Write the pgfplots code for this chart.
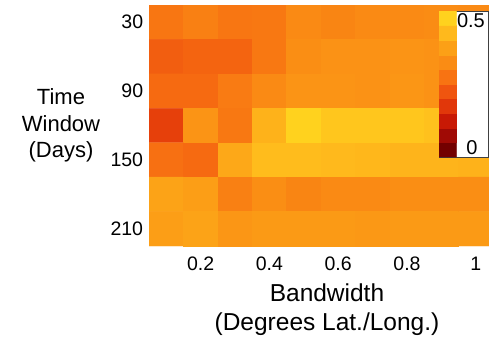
\documentclass[border=0pt]{standalone}
\usepackage{fontspec}
\setmainfont{Liberation Sans}
\usepackage{pgfplots}
\pgfplotsset{compat=1.18}
\usepackage{pgfplotstable}

\pgfplotstableread{
x y c
0.1 30 0.28
0.2 30 0.30
0.3 30 0.28
0.4 30 0.285
0.5 30 0.32
0.6 30 0.31
0.7 30 0.32
0.8 30 0.32
0.9 30 0.325
1.0 30 0.32
0.1 60 0.24
0.2 60 0.25
0.3 60 0.25
0.4 60 0.285
0.5 60 0.33
0.6 60 0.34
0.7 60 0.34
0.8 60 0.345
0.9 60 0.34
1.0 60 0.34
0.1 90 0.26
0.2 90 0.26
0.3 90 0.29
0.4 90 0.32
0.5 90 0.345
0.6 90 0.345
0.7 90 0.34
0.8 90 0.35
0.9 90 0.34
1.0 90 0.34
0.1 120 0.19
0.2 120 0.345
0.3 120 0.285
0.4 120 0.41
0.5 120 0.475
0.6 120 0.45
0.7 120 0.45
0.8 120 0.45
0.9 120 0.44
1.0 120 0.44
0.1 150 0.27
0.2 150 0.26
0.3 150 0.39
0.4 150 0.43
0.5 150 0.43
0.6 150 0.425
0.7 150 0.42
0.8 150 0.415
0.9 150 0.415
1.0 150 0.41
0.1 180 0.38
0.2 180 0.37
0.3 180 0.30
0.4 180 0.33
0.5 180 0.31
0.6 180 0.32
0.7 180 0.32
0.8 180 0.33
0.9 180 0.33
1.0 180 0.33
0.1 210 0.37
0.2 210 0.38
0.3 210 0.35
0.4 210 0.36
0.5 210 0.36
0.6 210 0.36
0.7 210 0.355
0.8 210 0.36
0.9 210 0.36
1.0 210 0.36
}\heatdata

\pgfplotstableread{
x y c
0.25 0.025 0.025
0.75 0.025 0.025
0.25 0.075 0.075
0.75 0.075 0.075
0.25 0.125 0.125
0.75 0.125 0.125
0.25 0.175 0.175
0.75 0.175 0.175
0.25 0.225 0.225
0.75 0.225 0.225
0.25 0.275 0.275
0.75 0.275 0.275
0.25 0.325 0.325
0.75 0.325 0.325
0.25 0.375 0.375
0.75 0.375 0.375
0.25 0.425 0.425
0.75 0.425 0.425
0.25 0.475 0.475
0.75 0.475 0.475
}\cbdata

\pgfplotsset{
  colormap={hotorange}{rgb255=(115,0,0) rgb255=(160,10,5) rgb255=(200,25,5)
    rgb255=(225,55,10) rgb255=(240,85,15) rgb255=(248,115,18)
    rgb255=(250,140,20) rgb255=(252,160,22) rgb255=(255,185,28) rgb255=(255,210,30)},
}

\begin{document}
\begin{tikzpicture}
\useasboundingbox (0,0) rectangle (489pt,346pt);
\begin{axis}[
  at={(149pt,100pt)}, anchor=south west,
  scale only axis, width=340pt, height=241pt,
  xmin=0.05, xmax=1.0384, ymin=15, ymax=225,
  y dir=reverse,
  colormap name=hotorange,
  point meta min=0.025, point meta max=0.475,
  axis line style={draw=none},
  major tick length=0pt,
  xtick={0.2,0.4,0.6,0.8,1}, xticklabels={0.2,0.4,0.6,0.8,1},
  ytick={30,90,150,210}, yticklabels={30,90,150,210},
  tick label style={font=\fontsize{19.5}{22}\selectfont, inner sep=0pt},
  xticklabel style={anchor=north, yshift=-10.5pt},
  yticklabel style={anchor=east, xshift=-5.7pt},
  /pgf/number format/assume math mode=true,
  xlabel={Bandwidth\\(Degrees Lat./Long.)},
  xlabel style={font=\fontsize{24.5}{28.6}\selectfont, align=center, inner sep=0pt,
    at={(rel axis cs:0.5235,0)}, anchor=north, yshift=-38pt},
  ylabel={Time\\Window\\(Days)},
  ylabel style={rotate=-90, font=\fontsize{22}{26.5}\selectfont, align=center, inner sep=0pt,
    at={(rel axis cs:0,0.653)}, anchor=north, xshift=-88pt},
]
\addplot[matrix plot*, mesh/cols=10, point meta=explicit] table[x=x, y=y, meta=c] {\heatdata};
\end{axis}

\begin{axis}[
  at={(439pt,189pt)}, anchor=south west,
  scale only axis, width=49.5pt, height=146pt,
  xmin=0, xmax=2.8286, ymin=0, ymax=0.5,
  axis background/.style={fill=white},
  axis line style={draw=black!75, line width=0.9pt},
  ticks=none,
  colormap name=hotorange,
  point meta min=0.025, point meta max=0.475,
]
\addplot[matrix plot*, mesh/cols=2, point meta=explicit] table[x=x, y=y, meta=c] {\cbdata};
\node[anchor=north east, inner sep=0pt, font=\fontsize{20}{22}\selectfont] at (rel axis cs:0.93,0.985) {0.5};
\node[anchor=base, inner sep=0pt, font=\fontsize{20}{22}\selectfont] at (rel axis cs:0.667,0.014) {0};
\end{axis}
\end{tikzpicture}
\end{document}
